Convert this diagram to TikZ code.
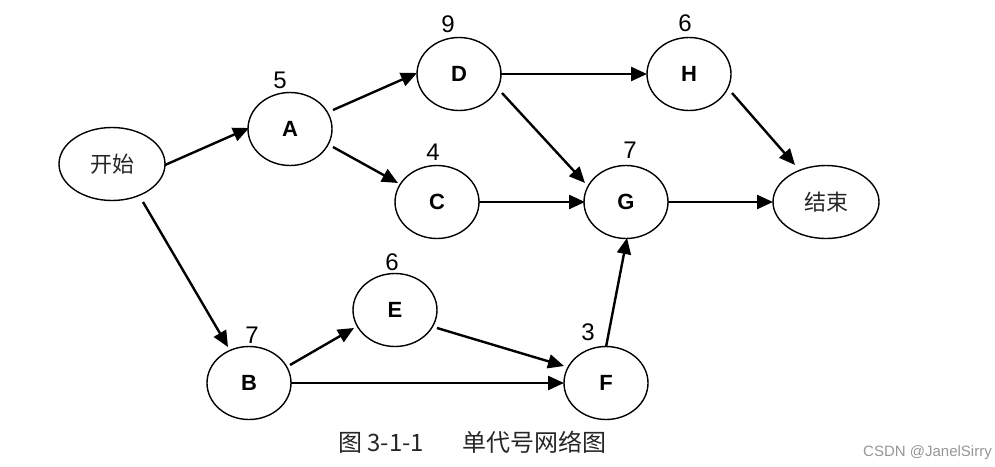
\documentclass[tikz,border=0pt]{standalone}
\usepackage{fontspec}
\setmainfont{Liberation Sans}
\newfontfamily\cjk{Noto Sans CJK SC}
\usetikzlibrary{shapes.geometric,arrows.meta}
\begin{document}
\begin{tikzpicture}[x=1pt,y=-1pt,
  ev/.style={ellipse,draw,line width=1.4pt,minimum width=84pt,minimum height=73pt,inner sep=0pt,font=\fontsize{22}{26}\selectfont\bfseries},
  evw/.style={ev,minimum width=106pt,minimum height=73pt,font=\cjk\fontsize{22}{26}\selectfont\color{black!85}},
  dur/.style={inner sep=0pt,font=\fontsize{24}{28}\selectfont},
  arr/.style={line width=2.4pt,-{Triangle[length=16pt,width=14pt]}}]
\useasboundingbox (0,0) rectangle (995,466);
% nodes
\node[evw] (S) at (112,164) {开始};
\node[ev] (A) at (290,129) {A};
\node[ev] (D) at (459,74) {D};
\node[ev] (H) at (689,74) {H};
\node[ev] (C) at (437,202) {C};
\node[ev] (G) at (626,202) {G};
\node[evw] (T) at (826,202) {结束};
\node[ev] (E) at (395,310) {E};
\node[ev] (B) at (249,383) {B};
\node[ev] (F) at (606,383) {F};
% durations
\node[dur] (dA) at (280,80) {5};
\node[dur] (dD) at (448,24) {9};
\node[dur] (dH) at (685,23) {6};
\node[dur] (dC) at (433,152) {4};
\node[dur] (dG) at (630,150) {7};
\node[dur] (dE) at (392,262) {6};
\node[dur] (dB) at (252,335) {7};
\node[dur] (dF) at (588,332) {3};
% arrows
\draw[arr] ([shift={(53,1)}]S.center) -- ([shift={(-41,-1)}]A.center);
\draw[arr] ([shift={(31,38)}]S.center) -- ([shift={(-21,-36)}]B.center);
\draw[arr] ([shift={(43,-19)}]A.center) -- ([shift={(-42,-1)}]D.center);
\draw[arr] ([shift={(43,18)}]A.center) -- ([shift={(-39,-19)}]C.center);
\draw[arr] ([shift={(41,0)}]D.center) -- ([shift={(-42,0)}]H.center);
\draw[arr] ([shift={(43,19)}]D.center) -- ([shift={(-41,-19)}]G.center);
\draw[arr] ([shift={(42,0)}]C.center) -- ([shift={(-41,0)}]G.center);
\draw[arr] ([shift={(43,19)}]H.center) -- ([shift={(-31,-37)}]T.center);
\draw[arr] ([shift={(42,0)}]G.center) -- ([shift={(-53,0)}]T.center);
\draw[arr] ([shift={(41,-18)}]B.center) -- ([shift={(-41,18)}]E.center);
\draw[arr] ([shift={(42,0)}]B.center) -- ([shift={(-42,0)}]F.center);
\draw[arr] ([shift={(42,18)}]E.center) -- ([shift={(-42,-17)}]F.center);
\draw[arr] ([shift={(0,-36)}]F.center) -- ([shift={(1,36)}]G.center);
% caption
\node[anchor=west,inner sep=0pt,font=\cjk\fontsize{24}{28}\selectfont,text=black!85] (cap) at (338,442) {图 3-1-1\hspace{38pt}单代号网络图};
\node[anchor=east,inner sep=0pt,font=\fontsize{15}{18}\selectfont,text={rgb,255:red,150;green,150;blue,150}] (wm) at (992,453) {CSDN @JanelSirry};
\end{tikzpicture}
\end{document}
